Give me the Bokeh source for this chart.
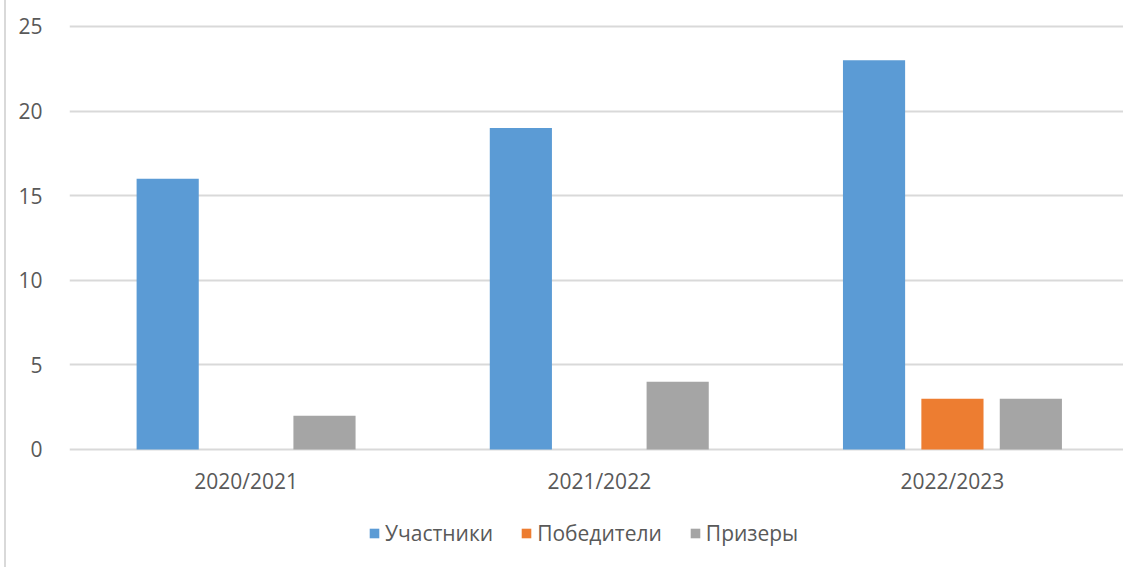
from bokeh.plotting import figure
from bokeh.models import Range1d, FixedTicker, Legend, LegendItem, ColumnDataSource
from bokeh.core.properties import value
from bokeh.embed import file_html
from bokeh.resources import INLINE

categories = ["2020/2021", "2021/2022", "2022/2023"]
series_names = ["Участники", "Победители", "Призеры"]
uchastniki = [16, 19, 23]
pobediteli = [0, 0, 3]
prizery = [2, 4, 3]
colors = ["#5B9BD5", "#ED7D31", "#A5A5A5"]
y_ticks = [0, 5, 10, 15, 20, 25]

FONT = "Open Sans"
TXT = "#595959"
FS = "21px"

p = figure(width=1119, height=567, output_backend="svg", toolbar_location=None,
           x_range=Range1d(0, 2.99), y_range=Range1d(-6.974, 25.591),
           min_border_left=63, min_border_right=0, min_border_top=16, min_border_bottom=0)
p.outline_line_color = None
p.background_fill_color = "white"
p.border_fill_color = "white"

centers = [i + 0.5 for i in range(len(categories))]
offsets = [-0.222, 0.0, 0.222]
bar_w = 0.176
renderers = []
for vals, off, col in zip([uchastniki, pobediteli, prizery], offsets, colors):
    xs = [c + off for c in centers]
    r = p.vbar(x=xs, top=vals, bottom=0, width=bar_w, fill_color=col, line_color=None)
    renderers.append(r)

# category labels under the baseline
src = ColumnDataSource(dict(x=centers, y=[0] * len(categories), t=categories))
p.text(x="x", y="y", text="t", source=src, y_offset=32, text_align="center",
       text_baseline="middle", text_font=value(FONT), text_font_size=FS, text_color=TXT)

p.xaxis.visible = False
p.xgrid.grid_line_color = None
p.ygrid.grid_line_color = "#D9D9D9"
p.ygrid.grid_line_width = 2
p.ygrid.ticker = FixedTicker(ticks=y_ticks)
p.yaxis.ticker = FixedTicker(ticks=y_ticks)
p.yaxis.axis_line_color = None
p.yaxis.major_tick_line_color = None
p.yaxis.minor_tick_line_color = None
p.yaxis.major_label_text_font = FONT
p.yaxis.major_label_text_font_size = FS
p.yaxis.major_label_text_color = TXT
p.yaxis.major_label_standoff = 21

legend = Legend(items=[LegendItem(label=n, renderers=[r]) for n, r in zip(series_names, renderers)],
                orientation="horizontal", location=(299, 20),
                glyph_width=12, glyph_height=12, label_standoff=5, spacing=27,
                padding=0, margin=0, border_line_color=None, background_fill_alpha=0,
                label_text_font=FONT, label_text_font_size=FS, label_text_color=TXT)
p.add_layout(legend)
p.styles = {"margin-left": "4px", "border-left": "2px solid #D9D9D9"}

open("out.html", "w").write(file_html(p, INLINE))
